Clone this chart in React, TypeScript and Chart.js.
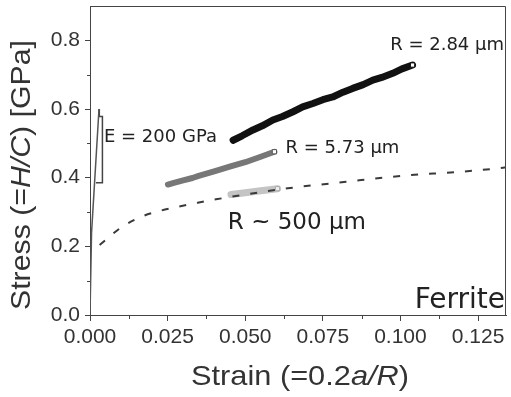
import { useEffect, useRef } from "react";
import { Chart, registerables } from "chart.js";

Chart.register(...registerables);

// ---- data ----
const xTicks = [0, 0.025, 0.05, 0.075, 0.1, 0.125];
const yTicks = [0, 0.2, 0.4, 0.6, 0.8];
const xMinor = [0.0125, 0.0375, 0.0625, 0.0875, 0.1125];
const yMinor = [0.1, 0.3, 0.5, 0.7];

const elasticStrain = [0, 0.0005, 0.0029];
const elasticStress = [0, 0.24, 0.6];

const slopeStrain = [0.0029, 0.003, 0.004, 0.004, 0.0019];
const slopeStress = [0.6, 0.578, 0.578, 0.385, 0.385];

const bulkStrain = [0.0031, 0.0101, 0.0165, 0.0224, 0.0283, 0.0347, 0.0406, 0.0637, 0.0825, 0.1007, 0.119, 0.1312, 0.134];
const bulkStress = [0.204, 0.255, 0.286, 0.303, 0.315, 0.327, 0.337, 0.369, 0.388, 0.4055, 0.417, 0.427, 0.43];

const r284Strain = [0.0461, 0.049, 0.0525, 0.0555, 0.0589, 0.062, 0.0654, 0.0685, 0.0718, 0.075, 0.0782, 0.0815, 0.0846, 0.088, 0.0911, 0.094, 0.0975, 0.1005, 0.1039];
const r284Stress = [0.509, 0.522, 0.539, 0.551, 0.568, 0.578, 0.592, 0.606, 0.616, 0.627, 0.635, 0.649, 0.66, 0.671, 0.684, 0.692, 0.704, 0.717, 0.728];

const r573Strain = [0.0251, 0.027, 0.03, 0.033, 0.035, 0.04, 0.045, 0.05, 0.055, 0.0594];
const r573Stress = [0.38, 0.385, 0.392, 0.399, 0.405, 0.418, 0.432, 0.445, 0.461, 0.4755];

const r500Strain = [0.0454, 0.05, 0.055, 0.0604];
const r500Stress = [0.351, 0.356, 0.362, 0.368];

const annotations = [
  { text: "E = 200 GPa", strain: 0.0045, stress: 0.504, size: 18 },
  { text: "R = 2.84 \u00b5m", strain: 0.0967, stress: 0.771, size: 18 },
  { text: "R = 5.73 \u00b5m", strain: 0.063, stress: 0.472, size: 18 },
  { text: "R ~ 500 \u00b5m", strain: 0.0444, stress: 0.25, size: 23 },
];
const materialLabel = "Ferrite";

const xTitle = [
  { t: "Strain (=0.2", i: false },
  { t: "a/R", i: true },
  { t: ")", i: false },
];
const yTitle = [
  { t: "Stress (=", i: false },
  { t: "H/C", i: true },
  { t: ") [GPa]", i: false },
];

const pts = (xs: number[], ys: number[]) => xs.map((x, k) => ({ x, y: ys[k] }));

function drawRich(ctx: CanvasRenderingContext2D, parts: { t: string; i: boolean }[], size: number, target: number) {
  const fam = '"Liberation Sans", Arial, sans-serif';
  let total = 0;
  const widths = parts.map((p) => {
    ctx.font = `${p.i ? "italic " : ""}${size}px ${fam}`;
    const w = ctx.measureText(p.t).width;
    total += w;
    return w;
  });
  const s = target / total;
  ctx.scale(s, 1);
  let x = -total / 2;
  parts.forEach((p, k) => {
    ctx.font = `${p.i ? "italic " : ""}${size}px ${fam}`;
    ctx.fillText(p.t, x, 0);
    x += widths[k];
  });
}

const extrasPlugin = {
  id: "extras",
  afterDraw(chart: any) {
    const ctx: CanvasRenderingContext2D = chart.ctx;
    const { left, right, top, bottom } = chart.chartArea;
    const xs = chart.scales.x;
    const ys = chart.scales.y;
    ctx.save();
    // frame top + right
    ctx.strokeStyle = "#444";
    ctx.lineWidth = 1;
    ctx.beginPath();
    ctx.moveTo(left, top + 0.5);
    ctx.lineTo(right - 0.5, top + 0.5);
    ctx.lineTo(right - 0.5, bottom);
    ctx.stroke();
    // minor ticks
    ctx.beginPath();
    xMinor.forEach((v) => {
      const px = Math.round(xs.getPixelForValue(v)) + 0.5;
      ctx.moveTo(px, bottom);
      ctx.lineTo(px, bottom + 4);
    });
    yMinor.forEach((v) => {
      const py = Math.round(ys.getPixelForValue(v)) + 0.5;
      ctx.moveTo(left - 3, py);
      ctx.lineTo(left, py);
    });
    ctx.stroke();

    // annotations
    ctx.fillStyle = "#222";
    ctx.textAlign = "left";
    ctx.textBaseline = "alphabetic";
    annotations.forEach((a) => {
      ctx.font = `${a.size}px "DejaVu Sans", sans-serif`;
      ctx.fillText(a.text, xs.getPixelForValue(a.strain), ys.getPixelForValue(a.stress));
    });
    ctx.font = '28px "DejaVu Sans", sans-serif';
    ctx.textAlign = "right";
    ctx.fillText(materialLabel, right - 1, bottom - 7);

    // axis titles
    ctx.fillStyle = "#333";
    ctx.textAlign = "left";
    ctx.save();
    ctx.translate((left + right) / 2 + 2, 385);
    drawRich(ctx, xTitle, 28, 218);
    ctx.restore();
    ctx.save();
    ctx.translate(30, 175);
    ctx.rotate(-Math.PI / 2);
    drawRich(ctx, yTitle, 28, 270);
    ctx.restore();
    ctx.restore();
  },
};

export default function App() {
  const ref = useRef<HTMLCanvasElement | null>(null);
  useEffect(() => {
    if (!ref.current) return;
    const endMarker = (n: number) => (c: any) => (c.dataIndex === n - 1 ? 3 : 0);
    const chart = new Chart(ref.current, {
      type: "scatter",
      data: {
        datasets: [
          {
            data: pts(bulkStrain, bulkStress),
            showLine: true,
            borderColor: "#3a3a3a",
            borderWidth: 2,
            borderDash: [7, 11],
            pointRadius: 0,
            cubicInterpolationMode: "monotone",
          },
          {
            data: pts(elasticStrain, elasticStress),
            showLine: true,
            borderColor: "#555",
            borderWidth: 1.5,
            pointRadius: 0,
          },
          {
            data: pts(slopeStrain, slopeStress),
            showLine: true,
            borderColor: "#444",
            borderWidth: 1.5,
            pointRadius: 0,
          },
          {
            data: pts(r284Strain, r284Stress),
            showLine: true,
            borderColor: "#111",
            borderWidth: 7,
            borderCapStyle: "round",
            borderJoinStyle: "round",
            pointStyle: "rect",
            pointRadius: endMarker(r284Strain.length),
            pointBackgroundColor: "#fff",
            pointBorderColor: "#111",
            pointBorderWidth: 1,
          },
          {
            data: pts(r573Strain, r573Stress),
            showLine: true,
            borderColor: "#777",
            borderWidth: 6,
            borderCapStyle: "round",
            borderJoinStyle: "round",
            pointStyle: "rect",
            pointRadius: endMarker(r573Strain.length),
            pointBackgroundColor: "#fff",
            pointBorderColor: "#555",
            pointBorderWidth: 1,
          },
          {
            data: pts(r500Strain, r500Stress),
            showLine: true,
            borderColor: "#c4c4c4",
            borderWidth: 7,
            borderCapStyle: "round",
            borderJoinStyle: "round",
            pointStyle: "rect",
            pointRadius: endMarker(r500Strain.length),
            pointBackgroundColor: "#eee",
            pointBorderColor: "#aaa",
            pointBorderWidth: 1,
          },
        ] as any,
      },
      options: {
        animation: false,
        responsive: false,
        events: [],
        layout: { padding: { top: 6, right: 4, left: 0, bottom: 0 } },
        plugins: { legend: { display: false }, tooltip: { enabled: false } },
        scales: {
          x: {
            type: "linear",
            min: 0,
            max: 0.134,
            afterBuildTicks: (s: any) => {
              s.ticks = xTicks.map((v) => ({ value: v }));
            },
            afterFit: (s: any) => {
              s.height = 82;
              s.paddingLeft = 0;
              s.paddingRight = 0;
            },
            grid: { display: true, drawOnChartArea: false, drawTicks: true, tickLength: 6, color: "#444" },
            border: { display: true, color: "#444", width: 1 },
            ticks: {
              autoSkip: false,
              maxRotation: 0,
              padding: 4,
              color: "#333",
              font: { family: '"Liberation Sans", Arial, sans-serif', size: 21 },
              callback: (v: any) => Number(v).toFixed(3),
            },
          },
          y: {
            type: "linear",
            min: 0,
            max: 0.9,
            afterBuildTicks: (s: any) => {
              s.ticks = yTicks.map((v) => ({ value: v }));
            },
            afterFit: (s: any) => {
              s.width = 90;
              s.paddingTop = 0;
              s.paddingBottom = 0;
            },
            grid: { display: true, drawOnChartArea: false, drawTicks: true, tickLength: 5, color: "#444" },
            border: { display: true, color: "#444", width: 1 },
            ticks: {
              autoSkip: false,
              padding: 5,
              color: "#333",
              font: { family: '"Liberation Sans", Arial, sans-serif', size: 21 },
              callback: (v: any) => Number(v).toFixed(1),
            },
          },
        },
      } as any,
      plugins: [extrasPlugin],
    });
    return () => chart.destroy();
  }, []);
  return (
    <div style={{ position: "absolute", left: 0, top: 0, width: 511, height: 397, background: "#fff" }}>
      <canvas ref={ref} width={511} height={397} style={{ display: "block" }} />
    </div>
  );
}
